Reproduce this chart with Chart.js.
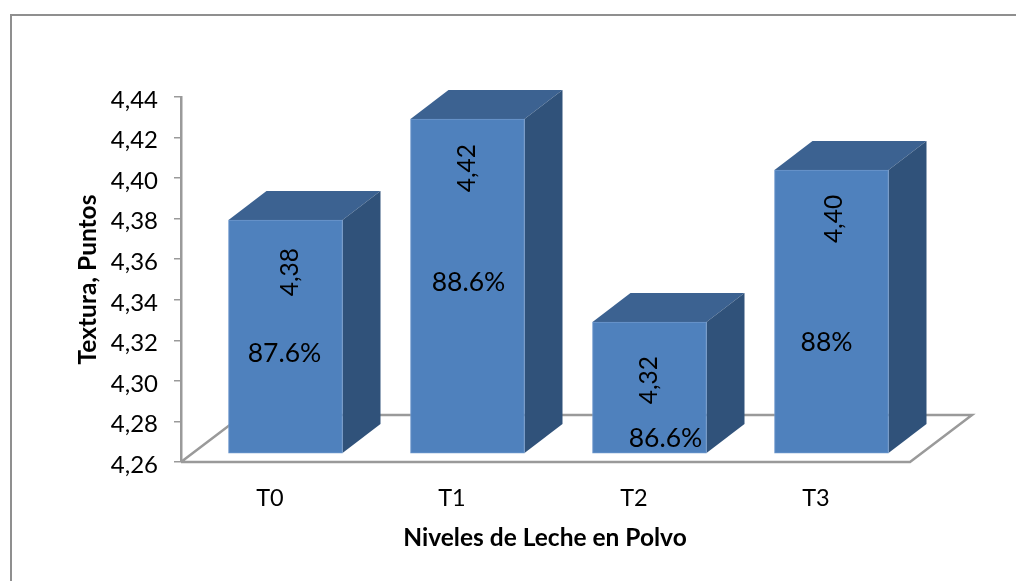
<!DOCTYPE html>
<html><head><meta charset="utf-8">
<style>html,body{margin:0;padding:0;background:#fff}#w{width:1016px;height:581px;position:relative}canvas{display:block}</style>
<script src="https://cdn.jsdelivr.net/npm/chart.js@4"></script>
</head><body><div id="w"><canvas id="c" width="1016" height="581"></canvas></div>
<script>
const categories = ['T0','T1','T2','T3'];
const barTops = [4.3793, 4.4291, 4.329, 4.404];
const barBase = 4.2644;
const valueLabels = ['4,38','4,42','4,32','4,40'];
const percentLabels = ['87.6%','88.6%','86.6%','88%'];
const yMin = 4.26, yMax = 4.44, yStep = 0.02;

const FONT = 'Lato, Carlito, sans-serif';
const FG = '#000';
const rotOffset = [[5,52],[0,49],[0,58],[3,49]];
const pctOffset = [[-1,133],[1,163],[16,116],[-5,172]];
const BAR_DX = 38, BAR_DY = 29, FLOOR_DX = 62, FLOOR_DY = 47;

const threeD = {
  id:'threeD',
  beforeDraw(chart){
    const c = chart.ctx;
    c.save(); c.strokeStyle='#8f8f8f'; c.lineWidth=2;
    c.beginPath(); c.moveTo(11,581); c.lineTo(11,15); c.lineTo(1016,15); c.stroke();
    c.restore();
  },
  beforeDatasetsDraw(chart){
    const c = chart.ctx, a = chart.chartArea;
    c.save(); c.strokeStyle='#9a9a9a'; c.lineWidth=2.5; c.lineJoin='miter';
    c.beginPath();
    c.moveTo(a.left,a.bottom); c.lineTo(a.right+1,a.bottom);
    c.lineTo(a.right+1+FLOOR_DX,a.bottom-FLOOR_DY);
    c.lineTo(a.left+FLOOR_DX,a.bottom-FLOOR_DY); c.lineTo(a.left,a.bottom);
    c.stroke();
    chart.getDatasetMeta(0).data.forEach(b=>{
      const l=b.x-b.width/2, r=b.x+b.width/2, t=b.y, bt=b.base;
      c.fillStyle='#3c6291';
      c.beginPath(); c.moveTo(l,t); c.lineTo(l+BAR_DX,t-BAR_DY); c.lineTo(r+BAR_DX,t-BAR_DY); c.lineTo(r,t); c.closePath(); c.fill();
      c.fillStyle='#30527a';
      c.beginPath(); c.moveTo(r,t); c.lineTo(r+BAR_DX,t-BAR_DY); c.lineTo(r+BAR_DX,bt-BAR_DY); c.lineTo(r,bt); c.closePath(); c.fill();
    });
    c.restore();
  },
  afterDatasetsDraw(chart){
    const c = chart.ctx;
    c.save(); c.fillStyle=FG; c.textAlign='center'; c.textBaseline='middle';
    chart.getDatasetMeta(0).data.forEach((b,i)=>{
      c.font='24.5px '+FONT;
      c.save(); c.translate(b.x+rotOffset[i][0], b.y+rotOffset[i][1]); c.rotate(-Math.PI/2);
      c.fillText(valueLabels[i],0,0); c.restore();
      c.font='26.5px '+FONT;
      c.fillText(percentLabels[i], b.x+pctOffset[i][0], b.y+pctOffset[i][1]);
    });
    c.restore();
  }
};

new Chart(document.getElementById('c'),{
  type:'bar',
  data:{labels:categories,datasets:[{
    data:barTops.map((v,i)=>({x:i,y:v})),
    xAxisID:'xBars',yAxisID:'y',
    base:barBase,barThickness:114,
    backgroundColor:'#4f81bd',borderColor:'#6c97cc',borderWidth:1,borderSkipped:false
  }]},
  plugins:[threeD],
  options:{
    responsive:false,animation:false,
    layout:{padding:{left:73,right:107,top:97,bottom:28}},
    plugins:{legend:{display:false},tooltip:{enabled:false},title:{display:false}},
    scales:{
      xBars:{type:'linear',display:false,position:'bottom',offset:false,min:-0.5742,max:3.4258},
      x:{type:'category',labels:categories,position:'bottom',
        afterFit(s){s.height=91;},
        grid:{display:false},border:{display:false},
        ticks:{color:FG,font:{family:FONT,size:23.5},padding:14,labelOffset:-2},
        title:{display:true,text:'Niveles de Leche en Polvo',color:FG,font:{family:FONT,size:24.5,weight:'bold'},padding:{top:0,bottom:0}}
      },
      y:{type:'linear',min:yMin,max:yMax,position:'left',
        afterFit(s){s.width=108;},
        afterBuildTicks(s){s.ticks=[];for(let i=0;i<=9;i++){s.ticks.push({value:+(yMin+i*yStep).toFixed(2)});}},
        grid:{drawOnChartArea:false,drawTicks:true,tickLength:7,color:'#9a9a9a',lineWidth:1.5},
        border:{display:true,color:'#9a9a9a',width:2.5},
        ticks:{color:FG,font:{family:FONT,size:24},padding:16,labelOffset:3,callback:v=>v.toFixed(2).replace('.',',')},
        title:{display:true,text:'Textura, Puntos',color:FG,font:{family:FONT,size:24.5,weight:'bold'},padding:{top:0,bottom:0}}
      }
    }
  }
});
</script></body></html>
